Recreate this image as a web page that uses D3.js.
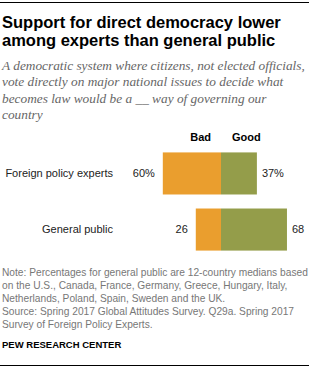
<!DOCTYPE html>
<html>
<head>
<meta charset="utf-8">
<script src="https://cdn.jsdelivr.net/npm/d3@7"></script>
<style>
    body { margin: 0; background: #fff; }
</style>
</head>
<body>
<div id="chart"></div>
<script>
// data
let groups = ["Foreign policy experts", "General public"];
let badValues = [60, 26];
let goodValues = [37, 68];
let badLabels = ["60%", "26"];
let goodLabels = ["37%", "68"];
let seriesNames = ["Bad", "Good"];

let titleLines = ["Support for direct democracy lower", "among experts than general public"];
let subtitleLines = [
    "A democratic system where citizens, not elected officials,",
    "vote directly on major national issues to decide what",
    "becomes law would be a __ way of governing our",
    "country"
];
let noteLines = [
    "Note: Percentages for general public are 12-country medians based",
    "on the U.S., Canada, France, Germany, Greece, Hungary, Italy,",
    "Netherlands, Poland, Spain, Sweden and the UK.",
    "Source: Spring 2017 Global Attitudes Survey. Q29a. Spring 2017",
    "Survey of Foreign Policy Experts."
];

class divergingBarViz {
    constructor(parentElement) {
        this.parentElement = parentElement;
        this.colors = {bad: "#EA9E2E", good: "#949D4A"};
        this.initVis();
    }

    initVis() {
        let vis = this;
        vis.width = 311;
        vis.height = 369;

        vis.svg = d3.select("#" + vis.parentElement).append("svg")
            .attr("width", vis.width)
            .attr("height", vis.height)
            .style("font-family", "'Liberation Sans', Arial, sans-serif");

        // top and bottom rules
        vis.svg.append("line")
            .attr("x1", 0).attr("x2", 309).attr("y1", 2.5).attr("y2", 2.5)
            .attr("stroke", "#000").attr("stroke-width", 1);
        vis.svg.append("line")
            .attr("x1", 0).attr("x2", 309).attr("y1", 365.5).attr("y2", 365.5)
            .attr("stroke", "#000").attr("stroke-width", 1);

        vis.svg.selectAll(".title")
            .data(titleLines)
            .enter().append("text")
            .attr("class", "title")
            .attr("x", 2)
            .attr("y", (d, i) => 28 + i * 18)
            .attr("font-size", 16.5)
            .attr("font-weight", "bold")
            .attr("fill", "#000")
            .text(d => d);

        let sub = vis.svg.selectAll(".subtitle")
            .data(subtitleLines)
            .enter().append("text")
            .attr("class", "subtitle")
            .attr("x", 2)
            .attr("y", (d, i) => 70 + i * 16.3)
            .attr("font-family", "'Liberation Serif', 'Times New Roman', serif")
            .attr("font-style", "italic")
            .attr("font-size", 14)
            .attr("fill", "#666")
            .text(d => d);

        // shrink the subtitle so the first line fits like in the reference
        let w = sub.nodes()[0].getComputedTextLength();
        if (w > 303) sub.attr("font-size", 14 * 303 / w);

        vis.svg.selectAll(".note")
            .data(noteLines)
            .enter().append("text")
            .attr("class", "note")
            .attr("x", 2)
            .attr("y", (d, i) => 276 + i * 13)
            .attr("font-size", 10.2)
            .attr("fill", "#777")
            .text(d => d);

        vis.svg.append("text")
            .attr("x", 2)
            .attr("y", 348)
            .attr("font-size", 9.5)
            .attr("font-weight", "bold")
            .attr("fill", "#000")
            .text("PEW RESEARCH CENTER");

        vis.center = 221;
        vis.x = d3.scaleLinear()
            .domain([0, 100])
            .range([0, 97]);

        vis.y = d3.scaleBand()
            .domain(groups)
            .range([144, 259])
            .paddingInner(0.25)
            .paddingOuter(0.15);

        vis.updateVis();
    }

    updateVis() {
        let vis = this;
        let rows = groups.map((g, i) => ({
            group: g, bad: badValues[i], good: goodValues[i],
            badLabel: badLabels[i], goodLabel: goodLabels[i]
        }));

        // column headers
        vis.svg.append("text")
            .attr("x", vis.center - 10)
            .attr("y", 141)
            .attr("text-anchor", "end")
            .attr("font-size", 11)
            .attr("font-weight", "bold")
            .text(seriesNames[0]);
        vis.svg.append("text")
            .attr("x", vis.center + 11)
            .attr("y", 141)
            .attr("font-size", 11)
            .attr("font-weight", "bold")
            .text(seriesNames[1]);

        let row = vis.svg.selectAll(".row")
            .data(rows)
            .enter().append("g")
            .attr("class", "row")
            .attr("transform", d => "translate(0," + vis.y(d.group) + ")");

        let bh = vis.y.bandwidth();

        row.append("rect")
            .attr("x", d => vis.center - vis.x(d.bad))
            .attr("y", 0)
            .attr("width", d => vis.x(d.bad))
            .attr("height", bh)
            .attr("fill", vis.colors.bad);

        row.append("rect")
            .attr("x", vis.center)
            .attr("y", 0)
            .attr("width", d => vis.x(d.good))
            .attr("height", bh)
            .attr("fill", vis.colors.good);

        row.append("text")
            .attr("x", 113)
            .attr("y", bh / 2)
            .attr("dy", "0.35em")
            .attr("text-anchor", "end")
            .attr("font-size", 11)
            .attr("fill", "#222")
            .text(d => d.group);

        row.append("text")
            .attr("x", d => vis.center - vis.x(d.bad) - 8)
            .attr("y", bh / 2)
            .attr("dy", "0.35em")
            .attr("text-anchor", "end")
            .attr("font-size", 11)
            .attr("fill", "#222")
            .text(d => d.badLabel);

        row.append("text")
            .attr("x", d => vis.center + vis.x(d.good) + 5)
            .attr("y", bh / 2)
            .attr("dy", "0.35em")
            .attr("font-size", 11)
            .attr("fill", "#222")
            .text(d => d.goodLabel);
    }
}

new divergingBarViz("chart");
</script>
</body>
</html>
